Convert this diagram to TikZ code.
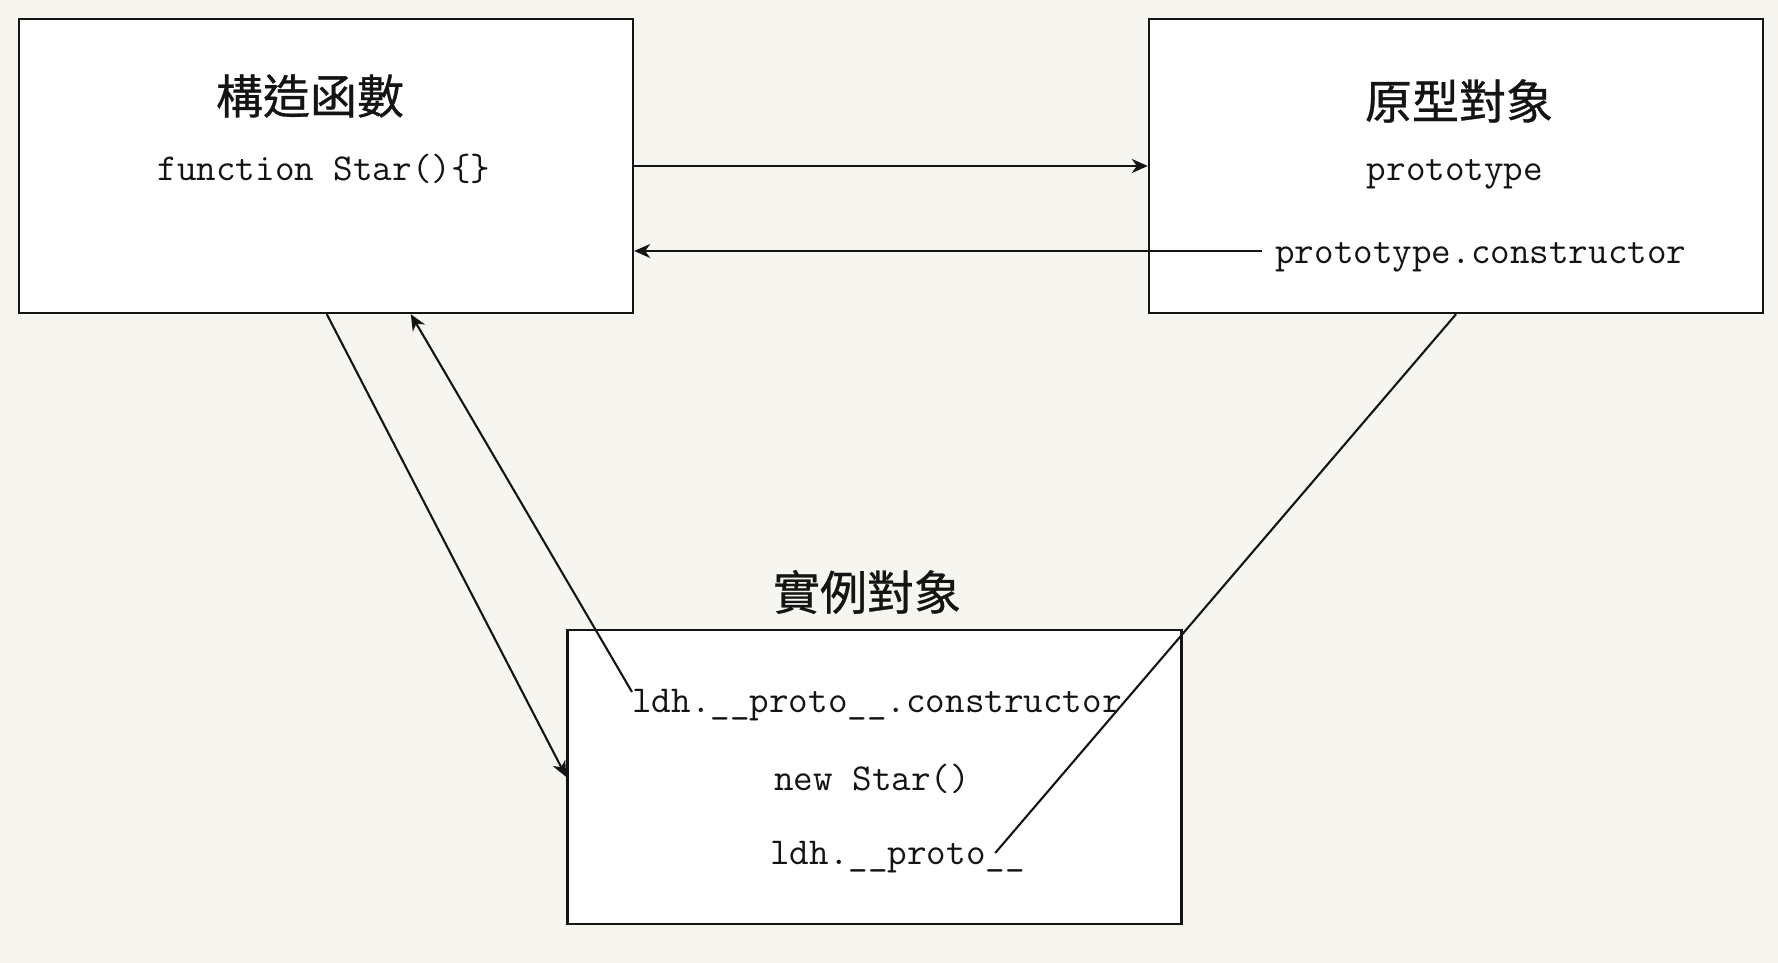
\documentclass[tikz,border=0pt]{standalone}
\usepackage{fontspec}
\newfontfamily\cjk[FakeBold=0.6]{Noto Sans CJK TC}
\usetikzlibrary{arrows.meta,calc}
\definecolor{bg}{HTML}{F7F5F0}
\definecolor{ink}{HTML}{141414}
\tikzset{
  box/.style={draw=ink,line width=1.2pt,fill=white,rectangle,inner sep=0pt,minimum width=307pt,minimum height=147pt},
  title/.style={inner sep=0pt,text=ink,font=\cjk\fontsize{23.5pt}{26pt}\selectfont},
  code/.style={inner sep=0pt,text=ink,font=\ttfamily\fontsize{19pt}{21pt}\selectfont},
  link/.style={draw=ink,line width=1.05pt},
  arr/.style={link,-{Stealth[length=8pt,width=7pt,inset=2.5pt]}}
}
\begin{document}
\begin{tikzpicture}[x=0.5pt,y=-0.5pt]
\fill[bg] (0,0) rectangle (1778,963);
\useasboundingbox (0,0) rectangle (1778,963);
% boxes
\node[box] (A) at (326,166) {};
\node[box] (B) at (1456,166) {};
\node[box] (C) at (874.5,777) {};
% titles
\node[title] (tA) at (310,96) {構造函數};
\node[title] (tB) at (1459,101) {原型對象};
\node[title] (tC) at (867,592) {實例對象};
% code texts
\node[code,anchor=base] (fs) at (324,181) {function Star()\{\}};
\node[code,anchor=base] (pt) at (1455,180) {prototype};
\node[code,anchor=base west] (pc) at (1275,263) {prototype.constructor};
\node[code,anchor=base west] (ldhc) at (632,712) {ldh.\_\_proto\_\_.constructor};
\node[code,anchor=base] (ns) at (872,790) {new Star()};
\node[code,anchor=base west] (ldhp) at (770,864) {ldh.\_\_proto\_\_};
% helper coordinates
\coordinate (pcs) at ($(pc.base west)+(-13,-12)$);
\coordinate (ldhcs) at ($(ldhc.base west)+(0,-20)$);
\coordinate (ldhpe) at ($(ldhp.base east)+(-30,-11)$);
% connectors
\draw[arr] (A.east) -- (B.west);
\draw[arr] (pcs) -- (pcs -| A.east);
\draw[arr] ($(A.south west)+(309,0)$) -- (C.west);
\draw[arr] (ldhcs) -- ($(A.south west)+(393,0)$);
\draw[link] (B.south) -- (ldhpe);
\end{tikzpicture}
\end{document}
